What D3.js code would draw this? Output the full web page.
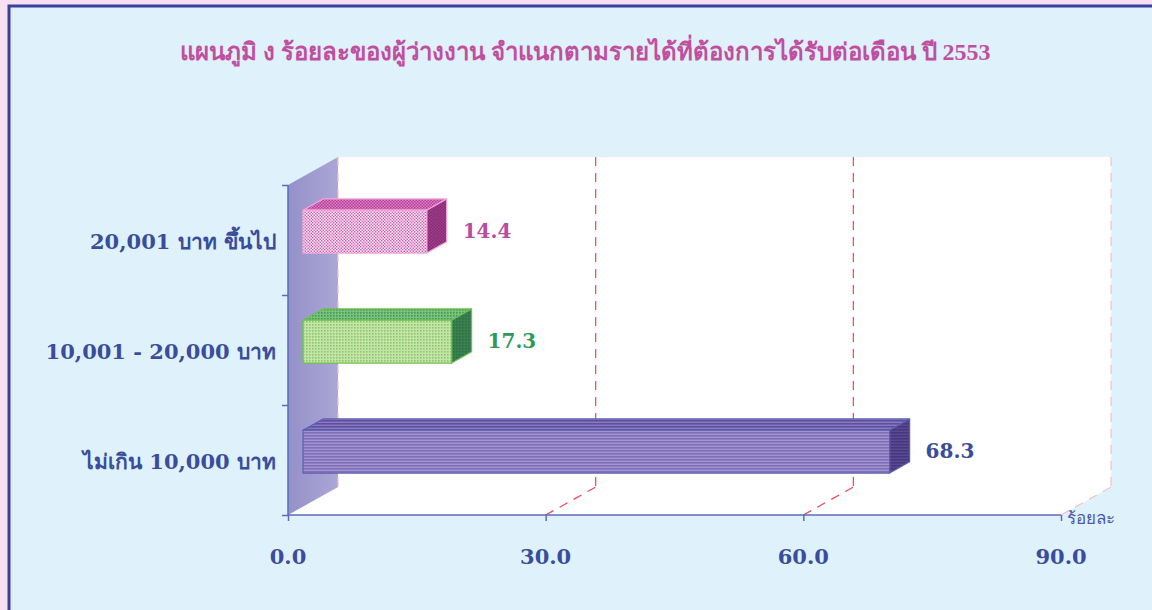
<!DOCTYPE html>
<html><head><meta charset="utf-8">
<script src="https://cdn.jsdelivr.net/npm/d3@7/dist/d3.min.js"></script>
<style>
html,body{margin:0;padding:0;background:#f7e0ef;}
svg{display:block;}
</style></head><body>
<svg id="c" width="1152" height="610"></svg>
<script>
const title = "แผนภูมิ ง  ร้อยละของผู้ว่างงาน จำแนกตามรายได้ที่ต้องการได้รับต่อเดือน  ปี 2553";
const categories = ["ไม่เกิน 10,000 บาท", "10,001 - 20,000 บาท", "20,001 บาท ขึ้นไป"];
const values = [68.3, 17.3, 14.4];
const tickValues = [0, 30, 60, 90];
const tickLabels = ["0.0", "30.0", "60.0", "90.0"];
const unitLabel = "ร้อยละ";
const barColors = [
  {front:["#7d6fb8","#a294cf"], top:["#5e4fa0","#8a7bc0"], side:["#46387e","#5a4a92"], stroke:"#5b5fb0", label:"#3a4d9c"},
  {front:["#8cc86e","#c4e4a8"], top:["#3f9a58","#7cc27c"], side:["#2a6e42","#3b8050"], stroke:"#6cc04c", label:"#2e9a5a"},
  {front:["#d657b4","#ffffff"], top:["#b03c94","#e080c8"], side:["#862a74","#a0408c"], stroke:"#f2a6d6", label:"#b84d9f"}
];
const numFont = "DejaVu Serif, Liberation Serif, serif";

const svg = d3.select("#c");
const defs = svg.append("defs");

// frame
svg.append("rect").attr("x",9).attr("y",6).attr("width",1160).attr("height",620)
  .attr("fill","#dff1fb").attr("stroke","#3b3fa0").attr("stroke-width",3);

// title
svg.append("text").attr("x",585).attr("y",60).attr("text-anchor","middle")
  .attr("font-family","Liberation Serif, serif").attr("font-weight","bold").attr("font-size",24)
  .attr("fill","#c0509f").text(title);

const x = d3.scaleLinear().domain([0,90]).range([288,1061]);
const yOrder = categories.slice().reverse(); // top to bottom
const y = d3.scaleBand().domain(yOrder).range([185,515]).padding(0);
const D = {dx:50, dy:-28};
const yTop = 185, yBot = 515;

// back wall
svg.append("rect").attr("x",x(0)+D.dx).attr("y",yTop+D.dy)
  .attr("width",x(90)-x(0)).attr("height",yBot-yTop).attr("fill","#ffffff");
// floor
svg.append("polygon").attr("points",[[x(0),yBot],[x(0)+D.dx,yBot+D.dy],[x(90)+D.dx,yBot+D.dy],[x(90),yBot]].join(" "))
  .attr("fill","#ffffff");
// left wall gradient
const lg = defs.append("linearGradient").attr("id","wall").attr("x1","0").attr("x2","1").attr("y1","0").attr("y2","0");
lg.append("stop").attr("offset","0").attr("stop-color","#9491c9");
lg.append("stop").attr("offset","1").attr("stop-color","#aca6d6");
svg.append("polygon").attr("points",[[x(0),yTop],[x(0)+D.dx,yTop+D.dy],[x(0)+D.dx,yBot+D.dy],[x(0),yBot]].join(" "))
  .attr("fill","url(#wall)");

// gridlines
tickValues.forEach((t,i)=>{
  const edge = (i===0 || i===tickValues.length-1);
  const col = edge ? "#f2c0c8" : "#ee4455";
  svg.append("line").attr("x1",x(t)+D.dx).attr("x2",x(t)+D.dx).attr("y1",yTop+D.dy).attr("y2",yBot+D.dy)
    .attr("stroke",col).attr("stroke-width",1.2).attr("stroke-dasharray","9,7");
  if(i>0){
    svg.append("line").attr("x1",x(t)).attr("x2",x(t)+D.dx).attr("y1",yBot).attr("y2",yBot+D.dy)
      .attr("stroke",col).attr("stroke-width",1.2).attr("stroke-dasharray","9,7");
  }
});

// patterns
function pat(id, c, kind){
  const p = defs.append("pattern").attr("id",id).attr("patternUnits","userSpaceOnUse");
  if(kind==="stripe"){
    p.attr("width",4).attr("height",3);
    p.append("rect").attr("width",4).attr("height",3).attr("fill",c[1]);
    p.append("rect").attr("width",4).attr("height",1.6).attr("fill",c[0]);
  } else if(kind==="dot"){
    p.attr("width",3).attr("height",3);
    p.append("rect").attr("width",3).attr("height",3).attr("fill",c[1]);
    p.append("rect").attr("width",1.6).attr("height",1.6).attr("fill",c[0]);
  } else {
    p.attr("width",3).attr("height",3);
    p.append("rect").attr("width",3).attr("height",3).attr("fill",c[1]);
    p.append("rect").attr("width",1.5).attr("height",1.5).attr("fill",c[0]);
    p.append("rect").attr("x",1.5).attr("y",1.5).attr("width",1.5).attr("height",1.5).attr("fill",c[0]);
  }
}
const kinds = ["stripe","dot","check"];

const f0 = 0.3, f1 = 0.7, barFrac = 0.39;
categories.forEach((cat,i)=>{
  const c = barColors[i];
  pat("pf"+i, c.front, kinds[i]);
  pat("pt"+i, c.top, kinds[i]);
  pat("ps"+i, c.side, kinds[i]);
  const cy = y(cat) + y.bandwidth()/2;
  const h = y.bandwidth()*barFrac;
  const ox = D.dx*f0, oy = D.dy*f0;
  const bx = D.dx*f1, by = D.dy*f1;
  const X0 = x(0), X1 = x(values[i]);
  const yt = cy - h/2, yb = cy + h/2;
  const g = svg.append("g").attr("stroke",c.stroke).attr("stroke-width",1.2).attr("stroke-linejoin","round");
  g.append("polygon").attr("points",[[X0+ox,yt+oy],[X1+ox,yt+oy],[X1+bx,yt+by],[X0+bx,yt+by]].join(" "))
    .attr("fill","url(#pt"+i+")");
  g.append("polygon").attr("points",[[X1+ox,yt+oy],[X1+bx,yt+by],[X1+bx,yb+by],[X1+ox,yb+oy]].join(" "))
    .attr("fill","url(#ps"+i+")");
  g.append("rect").attr("x",X0+ox).attr("y",yt+oy).attr("width",X1-X0).attr("height",h)
    .attr("fill","url(#pf"+i+")");
  svg.append("text").attr("x",X1+bx+16).attr("y",cy+oy+6)
    .attr("font-family",numFont).attr("font-weight","bold").attr("font-size",20)
    .attr("fill",c.label).text(values[i].toFixed(1));
});

// axes
const axisCol = "#5b6cb8";
const xAxis = d3.axisBottom(x).tickValues(tickValues).tickSize(6).tickFormat("");
const gx = svg.append("g").attr("transform","translate(0,"+yBot+")").call(xAxis);
gx.selectAll("path,line").attr("stroke",axisCol).attr("stroke-width",1.5);
gx.select(".domain").attr("d","M"+x(0)+",0H"+x(90));
tickValues.forEach((t,i)=>{
  svg.append("text").attr("x",x(t)).attr("y",564).attr("text-anchor","middle")
    .attr("font-family",numFont).attr("font-weight","bold").attr("font-size",21)
    .attr("fill","#3a4d9c").text(tickLabels[i]);
});
const yLin = d3.scaleLinear().domain([0,categories.length]).range([yBot,yTop]);
const yAxis = d3.axisLeft(yLin).tickValues(d3.range(categories.length+1)).tickSize(6).tickFormat("");
const gy = svg.append("g").attr("transform","translate("+x(0)+",0)").call(yAxis);
gy.selectAll("path,line").attr("stroke",axisCol).attr("stroke-width",1.5);
gy.select(".domain").attr("d","M0,"+yTop+"V"+yBot);

categories.forEach(cat=>{
  svg.append("text").attr("x",276).attr("y",y(cat)+y.bandwidth()/2+9).attr("text-anchor","end")
    .attr("font-family",numFont).attr("font-weight","bold").attr("font-size",21)
    .attr("fill","#3a4d9c").text(cat);
});

svg.append("text").attr("x",1067).attr("y",524)
  .attr("font-family","Liberation Serif, serif").attr("font-size",17)
  .attr("fill","#4a5aa8").text(unitLabel);
</script>
</body></html>
